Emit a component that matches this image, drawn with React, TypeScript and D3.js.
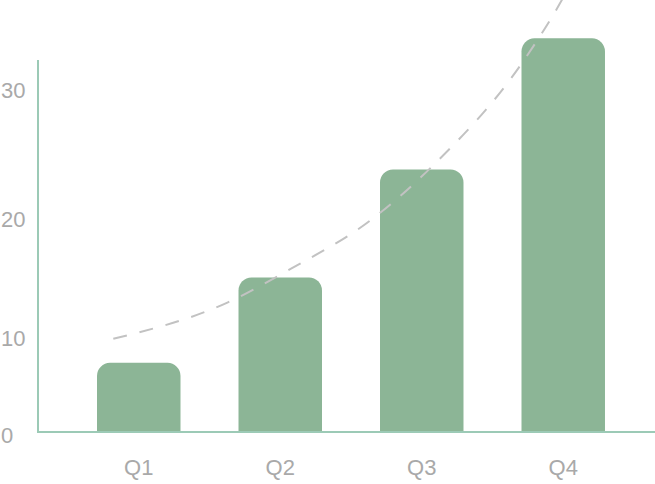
import React from "react";
import * as d3 from "d3";

// bar values per quarter
const quarters = ["Q1", "Q2", "Q3", "Q4"];
const values = [7.5, 15.0, 23.7, 33.6];

// y tick labels
const yTicks = [0, 10, 20, 30];

// dashed trend curve (x = quarter index, 1 = Q1)
const trendIndex = [0.82, 1.63, 2.07, 2.64, 3.07, 3.71, 3.99, 4.1];
const trendValues = [9.7, 12.9, 15.7, 19.7, 23.9, 31.8, 36.4, 38.5];

const W = 655;
const H = 484;

export default function App() {
  const axisX = 38;
  const baseY = 432;

  // the value axis in the picture is not linear, a power scale fits it
  const y = d3.scalePow().exponent(1.16).domain([0, 32]).range([baseY, 60]);

  const x = d3
    .scaleBand<string>()
    .domain(quarters)
    .range([axisX + 1, 663])
    .paddingInner(0.41)
    .paddingOuter(0.41);

  const bw = x.bandwidth();
  const centers = quarters.map((q) => (x(q) as number) + bw / 2);
  const xi = d3.scaleLinear().domain([1, 4]).range([centers[0], centers[3]]);

  const trendLine = d3
    .line<number>()
    .x((d, i) => xi(trendIndex[i]))
    .y((d) => y(d))
    .curve(d3.curveMonotoneX);

  function barPath(x0: number, top: number, w: number, bottom: number) {
    const r = 13;
    const p = d3.path();
    p.moveTo(x0, bottom);
    p.lineTo(x0, top + r);
    p.arcTo(x0, top, x0 + r, top, r);
    p.lineTo(x0 + w - r, top);
    p.arcTo(x0 + w, top, x0 + w, top + r, r);
    p.lineTo(x0 + w, bottom);
    p.closePath();
    return p.toString();
  }

  const font = "'Liberation Sans', Arial, sans-serif";

  return (
    <svg
      width={W}
      height={H}
      style={{ position: "absolute", left: 0, top: 0 }}
      fontFamily={font}
    >
      <rect width={W} height={H} fill="#ffffff" />

      {/* bars */}
      {quarters.map((q, i) => (
        <path
          key={q}
          d={barPath(x(q) as number, y(values[i]), bw, baseY)}
          fill="#8cb596"
        />
      ))}

      {/* trend */}
      <path
        d={trendLine(trendValues) || ""}
        fill="none"
        stroke="#c2c2c2"
        strokeWidth={2}
        strokeDasharray="14 13"
      />

      {/* axes */}
      <line x1={axisX} x2={axisX} y1={60} y2={baseY + 1} stroke="#9ccab6" strokeWidth={2} />
      <line x1={axisX - 1} x2={W} y1={baseY} y2={baseY} stroke="#9ccab6" strokeWidth={2} />

      {/* y labels */}
      {yTicks.map((t) => (
        <text
          key={t}
          x={1}
          y={y(t) + 3}
          dy="0.35em"
          fontSize={22}
          fill="#a9a9a9"
          textAnchor="start"
        >
          {t}
        </text>
      ))}

      {/* x labels */}
      {quarters.map((q, i) => (
        <text
          key={q}
          x={centers[i]}
          y={467}
          dy="0.35em"
          fontSize={22}
          fill="#a9a9a9"
          textAnchor="middle"
        >
          {q}
        </text>
      ))}
    </svg>
  );
}
